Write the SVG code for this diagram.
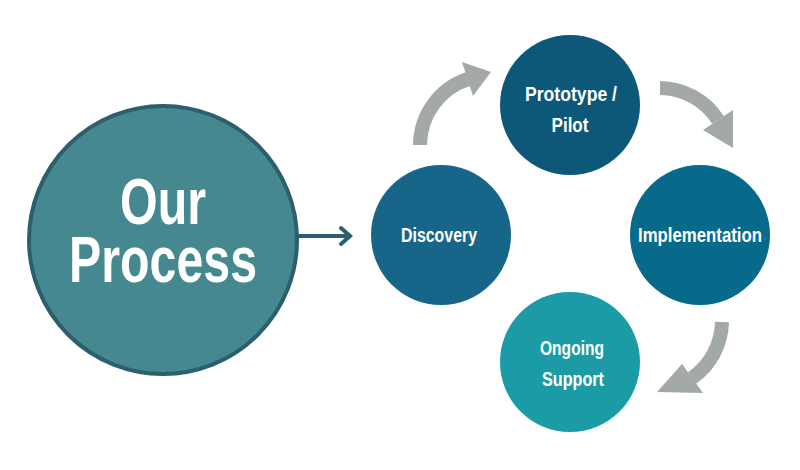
<svg xmlns="http://www.w3.org/2000/svg" width="800" height="470" viewBox="0 0 800 470">
<style>
.t{font-family:"Liberation Sans",Arial,sans-serif;font-weight:bold;fill:#fff;text-anchor:middle}
.s{font-size:20px}
.b{font-size:64px}
.g{fill:none;stroke:#a3a9a8;stroke-width:14}
.h{fill:#a3a9a8}
</style>
<rect width="800" height="470" fill="#fff"/>
<g id="our-process"><circle cx="163" cy="240" r="134" fill="#45888f" stroke="#2c5f6e" stroke-width="4"/>
<text class="t b" x="163" y="224" textLength="86" lengthAdjust="spacingAndGlyphs">Our</text><text class="t b" x="163" y="282" textLength="188" lengthAdjust="spacingAndGlyphs">Process</text></g>
<g id="discovery"><circle cx="441" cy="235" r="70" fill="#17668a"/><text class="t s" x="439" y="242" textLength="76" lengthAdjust="spacingAndGlyphs">Discovery</text></g>
<g id="prototype"><circle cx="570" cy="105" r="70" fill="#0d5878"/><text class="t s" x="571" y="101" textLength="92" lengthAdjust="spacingAndGlyphs">Prototype /</text><text class="t s" x="570" y="132" textLength="37" lengthAdjust="spacingAndGlyphs">Pilot</text></g>
<g id="implementation"><circle cx="700" cy="235" r="70" fill="#086a8a"/><text class="t s" x="700" y="242" textLength="124" lengthAdjust="spacingAndGlyphs">Implementation</text></g>
<g id="ongoing"><circle cx="570" cy="362" r="70" fill="#1a9ba6"/><text class="t s" x="572" y="355" textLength="64" lengthAdjust="spacingAndGlyphs">Ongoing</text><text class="t s" x="573" y="386" textLength="62" lengthAdjust="spacingAndGlyphs">Support</text></g>
<g id="connectors">
<path d="M298 236H350" stroke="#2c5f6e" stroke-width="4" fill="none"/>
<path d="M341 228L350 236L341 244" stroke="#2c5f6e" stroke-width="4" fill="none" stroke-linecap="round"/>
<path class="g" d="M420 145A70 70 0 0 1 468 79"/>
<polygon class="h" points="473,96 462,62 491,72"/>
<path class="g" d="M660 88A70 70 0 0 1 718 120"/>
<polygon class="h" points="733,110 703,130 733,148"/>
<path class="g" d="M722 322A70 70 0 0 1 692 378"/>
<polygon class="h" points="703,393 682,364 657,392"/>
</g>
</svg>
